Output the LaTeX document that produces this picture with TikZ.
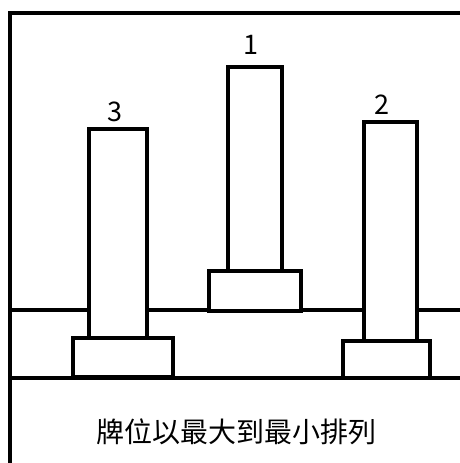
\documentclass[tikz,border=0pt]{standalone}
\usepackage{fontspec}
\newfontfamily\cjk{Noto Sans CJK TC}
\begin{document}
\begin{tikzpicture}[x=1pt,y=-1pt,
  line/.style={line width=3.2pt, line cap=rect, line join=miter},
  lbl/.style={font=\cjk\fontsize{27}{30}\selectfont, inner sep=0pt, anchor=center}]
\useasboundingbox (0,0) rectangle (459,463);
% frame
\draw[line] (459,13) -- (10,13) -- (10,470);
% upper ground line segments
\draw[line] (10,310) -- (89,310);
\draw[line] (147,310) -- (209,310);
\draw[line] (301,310) -- (364,310);
\draw[line] (417,310) -- (470,310);
% lower ground line
\draw[line] (10,378) -- (470,378);
% stones
\draw[line] (89,129) rectangle (147,338);
\draw[line] (73,338) rectangle (173,377);
\draw[line] (228,67) rectangle (282,271);
\draw[line] (209,271) rectangle (301,311);
\draw[line] (364,122) rectangle (417,341);
\draw[line] (343,341) rectangle (430,378);
% labels
\node[lbl] (n1) at (251,45) {1};
\node[lbl] (n3) at (115,112) {3};
\node[lbl] (n2) at (382,105) {2};
\node[font=\cjk\fontsize{28}{32}\selectfont, inner sep=0pt] (cap) at (236,432) {牌位以最大到最小排列};
\end{tikzpicture}
\end{document}
